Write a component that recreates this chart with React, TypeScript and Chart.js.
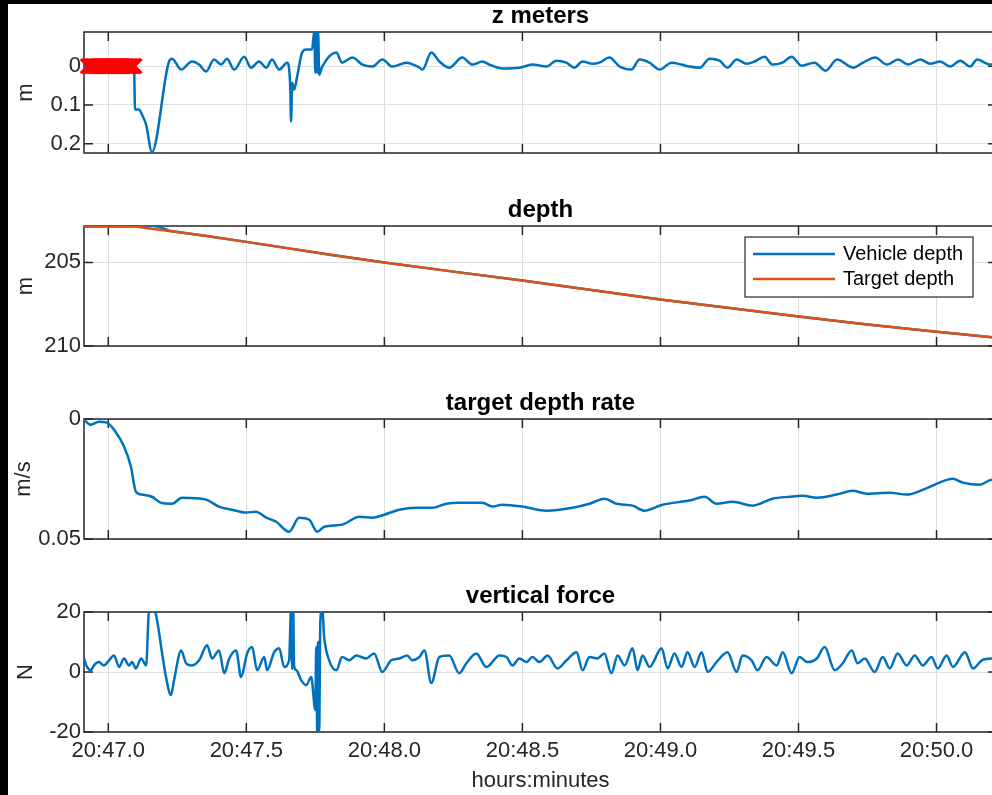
import React, { useEffect, useRef } from 'react';
import Chart from 'chart.js/auto';

// ---------- shared x axis (minutes after 20:00) ----------
const xMin = 46.912;
const xMax = 50.219;
const xTickValues = [47.0, 47.5, 48.0, 48.5, 49.0, 49.5, 50.0];
const xTickLabels = ['20:47.0', '20:47.5', '20:48.0', '20:48.5', '20:49.0', '20:49.5', '20:50.0'];

// ---------- z meters ----------
const zTime = [46.912, 47.093, 47.097, 47.111, 47.122, 47.137, 47.158, 47.220, 47.231, 47.264, 47.303, 47.329, 47.354, 47.383, 47.409, 47.430, 47.456, 47.492, 47.517, 47.546, 47.572, 47.593, 47.619, 47.648, 47.659, 47.662, 47.666, 47.673, 47.684, 47.702, 47.717, 47.738, 47.746, 47.750, 47.753, 47.757, 47.760, 47.764, 47.775, 47.826, 47.847, 47.884, 47.920, 47.956, 47.993, 48.029, 48.080, 48.127, 48.138, 48.170, 48.199, 48.235, 48.282, 48.319, 48.355, 48.380, 48.427, 48.489, 48.536, 48.587, 48.623, 48.659, 48.688, 48.717, 48.754, 48.779, 48.815, 48.852, 48.895, 48.924, 48.960, 48.997, 49.040, 49.076, 49.105, 49.142, 49.178, 49.214, 49.243, 49.276, 49.312, 49.341, 49.377, 49.406, 49.442, 49.475, 49.511, 49.558, 49.598, 49.640, 49.698, 49.734, 49.778, 49.821, 49.861, 49.897, 49.941, 49.977, 50.013, 50.049, 50.086, 50.122, 50.147, 50.194, 50.219];
const zValue = [0, 0, 0.112, 0.112, 0.125, 0.151, 0.222, -0.012, -0.019, 0.009, -0.012, -0.004, 0.014, -0.017, -0.004, -0.019, 0.009, -0.024, 0.004, -0.012, 0.004, -0.017, 0.009, -0.009, 0.053, 0.143, 0.043, 0.061, 0.027, -0.035, -0.043, -0.043, -0.09, 0.017, -0.09, 0.017, -0.09, 0.022, 0.001, -0.035, -0.009, -0.022, -0.004, 0.001, -0.017, 0.001, -0.009, 0.004, 0.009, -0.035, -0.012, 0.004, -0.022, -0.004, -0.012, -0.004, 0.006, 0.004, -0.004, 0.001, -0.014, -0.009, 0.004, -0.012, -0.006, -0.009, -0.022, 0.001, 0.009, -0.017, -0.009, 0.009, -0.009, -0.004, 0.001, 0.004, -0.019, -0.014, 0.004, -0.017, -0.006, -0.012, -0.024, -0.004, -0.009, -0.024, -0.001, -0.009, 0.012, -0.017, 0.004, -0.009, -0.022, -0.004, -0.017, -0.004, -0.017, -0.006, -0.012, 0.001, -0.014, 0.001, -0.017, -0.004, -0.006];
const zFlagTime = [46.926, 46.931, 46.936, 46.941, 46.946, 46.951, 46.956, 46.961, 46.966, 46.971, 46.976, 46.981, 46.986, 46.991, 46.996, 47.001, 47.006, 47.011, 47.016, 47.021, 47.026, 47.031, 47.036, 47.041, 47.046, 47.051, 47.056, 47.061, 47.066, 47.071, 47.076, 47.081, 47.086, 47.091, 47.095];
const zFlagValue = [0, 0, 0, 0, 0, 0, 0, 0, 0, 0, 0, 0, 0, 0, 0, 0, 0, 0, 0, 0, 0, 0, 0, 0, 0, 0, 0, 0, 0, 0, 0, 0, 0, 0, 0];
const zTicks = [0, 0.1, 0.2];
const zTickLabels = ['0', '0.1', '0.2'];

// ---------- depth ----------
const depthTargetTime = [46.912, 47.09, 47.2, 47.35, 47.5, 47.81, 48.0, 48.25, 48.5, 48.75, 49.0, 49.25, 49.5, 49.75, 50.0, 50.219];
const depthTarget = [202.85, 202.83, 203.08, 203.4, 203.77, 204.56, 205.0, 205.55, 206.08, 206.65, 207.22, 207.73, 208.24, 208.72, 209.15, 209.5];
const depthVehicleTime = [46.912, 47.09, 47.11, 47.15, 47.19, 47.22, 47.35, 47.5, 47.81, 48.0, 48.25, 48.5, 48.75, 49.0, 49.25, 49.5, 49.75, 50.0, 50.219];
const depthVehicle = [202.85, 202.83, 202.76, 202.76, 202.9, 203.1, 203.4, 203.77, 204.56, 205.0, 205.55, 206.08, 206.65, 207.22, 207.73, 208.24, 208.72, 209.15, 209.5];
const depthTicks = [205, 210];
const depthTickLabels = ['205', '210'];

// ---------- target depth rate ----------
const rateTime = [46.912, 46.937, 46.966, 46.995, 47.021, 47.057, 47.082, 47.100, 47.122, 47.158, 47.191, 47.231, 47.267, 47.354, 47.401, 47.448, 47.499, 47.535, 47.572, 47.608, 47.655, 47.691, 47.728, 47.757, 47.782, 47.847, 47.909, 47.956, 47.999, 48.054, 48.115, 48.173, 48.224, 48.271, 48.355, 48.391, 48.427, 48.500, 48.587, 48.681, 48.743, 48.797, 48.841, 48.899, 48.942, 49.008, 49.105, 49.160, 49.203, 49.261, 49.334, 49.406, 49.468, 49.515, 49.566, 49.638, 49.696, 49.747, 49.831, 49.892, 49.950, 50.000, 50.059, 50.095, 50.157, 50.200, 50.219];
const rateValue = [0.0003, 0.0024, 0.0011, 0.0015, 0.0045, 0.0115, 0.0199, 0.0303, 0.0315, 0.0324, 0.0349, 0.0353, 0.0328, 0.0336, 0.0365, 0.0378, 0.0390, 0.0386, 0.0411, 0.0428, 0.0470, 0.0411, 0.0420, 0.0470, 0.0449, 0.0440, 0.0407, 0.0411, 0.0399, 0.0378, 0.0370, 0.0370, 0.0353, 0.0349, 0.0349, 0.0365, 0.0357, 0.0365, 0.0382, 0.0370, 0.0353, 0.0332, 0.0353, 0.0361, 0.0382, 0.0357, 0.0340, 0.0324, 0.0353, 0.0345, 0.0361, 0.0332, 0.0324, 0.0320, 0.0328, 0.0315, 0.0299, 0.0311, 0.0307, 0.0315, 0.0295, 0.0270, 0.0249, 0.0265, 0.0274, 0.0253, 0.0253];
const rateTicks = [0, 0.05];
const rateTickLabels = ['0', '0.05'];

// ---------- vertical force ----------
const forceTime = [46.912, 46.923, 46.937, 46.948, 46.966, 46.984, 47.003, 47.021, 47.039, 47.057, 47.075, 47.086, 47.100, 47.119, 47.137, 47.148, 47.166, 47.177, 47.195, 47.209, 47.227, 47.238, 47.264, 47.282, 47.303, 47.329, 47.358, 47.376, 47.401, 47.420, 47.438, 47.463, 47.481, 47.503, 47.521, 47.539, 47.565, 47.575, 47.601, 47.619, 47.637, 47.655, 47.662, 47.666, 47.670, 47.673, 47.681, 47.699, 47.717, 47.735, 47.750, 47.753, 47.757, 47.760, 47.764, 47.768, 47.775, 47.782, 47.800, 47.826, 47.847, 47.873, 47.898, 47.934, 47.963, 47.992, 48.025, 48.054, 48.083, 48.101, 48.127, 48.145, 48.170, 48.199, 48.235, 48.271, 48.297, 48.333, 48.369, 48.380, 48.417, 48.442, 48.464, 48.489, 48.515, 48.536, 48.562, 48.591, 48.627, 48.660, 48.696, 48.718, 48.743, 48.772, 48.797, 48.822, 48.845, 48.870, 48.899, 48.917, 48.935, 48.961, 49.004, 49.026, 49.051, 49.076, 49.098, 49.124, 49.149, 49.171, 49.203, 49.243, 49.276, 49.297, 49.330, 49.352, 49.384, 49.421, 49.443, 49.475, 49.504, 49.533, 49.566, 49.595, 49.631, 49.660, 49.693, 49.714, 49.740, 49.776, 49.805, 49.831, 49.859, 49.892, 49.921, 49.950, 49.982, 50.004, 50.037, 50.059, 50.103, 50.132, 50.164, 50.200, 50.219];
const forceValue = [4.5, 1.7, 0.6, 2.2, 3.3, 2.2, 3.9, 5.5, 1.7, 4.5, 2.2, 3.3, 1.2, 4.5, 2.2, 21, 21, 17.1, 6.2, -1.7, -7.7, -2.8, 7.2, 2.9, 2.2, 3.9, 8.9, 4.5, 7.2, -0.4, 4.5, 7.2, -1.7, 6.2, 8.3, 0.6, 5.0, 0.6, 6.6, 7.9, 1.7, 3.9, 21, 1, 21, 2, 0.6, -2.8, -4.4, -1.7, -12.7, 8.3, -21, 10, -19.4, 17.1, 21, 11.6, 3.9, 0.6, 5.0, 3.9, 5.5, 4.5, 6.2, 0, 3.9, 4.5, 5.5, 3.9, 5.0, 7.2, -3.7, 5.0, 5.5, -0.4, 2.9, 6.2, 1.7, 2.2, 5.5, 5.0, 2.2, 4.5, 3.3, 5.0, 3.3, 5.5, 1.2, 3.9, 6.6, 0.6, 5.0, 4.5, 6.2, -0.4, 5.5, 2.2, 7.9, 0.6, 5.5, 1.7, 7.9, 1.2, 6.2, 1.7, 6.6, 1.7, 6.6, 0, 3.3, 6.6, 0, 5.5, 3.9, 0.6, 5.0, 2.2, 6.6, -0.4, 5.0, 3.3, 4.5, 8.3, 0.6, 2.9, 7.2, 2.9, 4.5, 0, 5.0, 1.2, 6.2, 2.2, 5.5, 2.2, 5.0, 1.2, 5.5, 1.7, 6.6, 1.2, 3.9, 4.5, 3.5];
const forceTicks = [-20, 0, 20];
const forceTickLabels = ['-20', '0', '20'];

// ---------- styling ----------
const FONT = '"Liberation Sans", Arial, Helvetica, sans-serif';
const BLUE = '#0072BD';
const ORANGE = '#D95319';
const AXIS = '#262626';
const GRID = '#dedede';
const CANVAS_W = 1080;

const pts = (xs: number[], ys: number[]) => {
  const n = Math.min(xs.length, ys.length);
  const out: { x: number; y: number }[] = [];
  for (let i = 0; i < n; i++) out.push({ x: xs[i], y: ys[i] });
  return out;
};

const axesFramePlugin = {
  id: 'axesFrame',
  beforeDatasetsDraw(chart: any) {
    const { ctx, chartArea: a, scales } = chart;
    const len = 9;
    ctx.save();
    ctx.strokeStyle = AXIS;
    ctx.lineWidth = 1.5;
    ctx.strokeRect(a.left, a.top, a.right - a.left, a.bottom - a.top);
    ctx.beginPath();
    scales.x.ticks.forEach((t: any) => {
      const px = scales.x.getPixelForValue(t.value);
      ctx.moveTo(px, a.top);
      ctx.lineTo(px, a.top + len);
      ctx.moveTo(px, a.bottom);
      ctx.lineTo(px, a.bottom - len);
    });
    scales.y.ticks.forEach((t: any) => {
      const py = scales.y.getPixelForValue(t.value);
      ctx.moveTo(a.left, py);
      ctx.lineTo(a.left + len, py);
      ctx.moveTo(a.right, py);
      ctx.lineTo(a.right - len, py);
    });
    ctx.stroke();
    ctx.restore();
  },
};

const boxedLegendPlugin = {
  id: 'boxedLegend',
  afterDatasetsDraw(chart: any, _args: any, opts: any) {
    const { ctx, chartArea: a } = chart;
    const w = 228;
    const h = 60;
    const left = a.right - opts.right - w;
    const top = a.top + opts.top;
    ctx.save();
    ctx.fillStyle = '#fff';
    ctx.fillRect(left, top, w, h);
    ctx.strokeStyle = AXIS;
    ctx.lineWidth = 1.2;
    ctx.strokeRect(left, top, w, h);
    ctx.font = `20px ${FONT}`;
    ctx.textBaseline = 'middle';
    chart.data.datasets.forEach((ds: any, i: number) => {
      const y = top + 17 + i * 25;
      ctx.strokeStyle = ds.borderColor;
      ctx.lineWidth = 2.5;
      ctx.beginPath();
      ctx.moveTo(left + 8, y);
      ctx.lineTo(left + 90, y);
      ctx.stroke();
      ctx.fillStyle = '#000';
      ctx.fillText(ds.label, left + 98, y);
    });
    ctx.restore();
  },
};

type PanelOpts = {
  title: string;
  yLabel: string;
  yMin: number;
  yMax: number;
  reverse: boolean;
  yTicks: number[];
  yTickLabels: string[];
  padBottom: number;
  xAxisHeight: number;
  showX: boolean;
  yTitlePad: number;
};

function makeOptions(o: PanelOpts, extraPlugins: any = {}) {
  return {
    responsive: false,
    maintainAspectRatio: false,
    animation: false,
    devicePixelRatio: 1,
    events: [],
    layout: { autoPadding: false, padding: { left: 0, right: CANVAS_W - (997 - 8), top: 0, bottom: o.padBottom } },
    plugins: {
      legend: { display: false },
      tooltip: { enabled: false },
      title: {
        display: true,
        text: o.title,
        fullSize: false,
        color: '#000',
        font: { family: FONT, size: 24, weight: 'bold', lineHeight: 1 },
        padding: { top: 0, bottom: 4 },
      },
      ...extraPlugins,
    },
    scales: {
      x: {
        type: 'linear',
        min: xMin,
        max: xMax,
        afterBuildTicks: (s: any) => {
          s.ticks = xTickValues.map((v) => ({ value: v }));
        },
        afterFit: (s: any) => {
          s.height = o.xAxisHeight;
        },
        grid: { color: GRID, lineWidth: 1, drawTicks: false },
        border: { display: false },
        ticks: {
          display: o.showX,
          autoSkip: false,
          maxRotation: 0,
          minRotation: 0,
          padding: 6,
          color: AXIS,
          font: { family: FONT, size: 22 },
          callback: (_v: any, i: number) => xTickLabels[i],
        },
        title: {
          display: o.showX,
          text: 'hours:minutes',
          color: AXIS,
          font: { family: FONT, size: 22 },
          padding: { top: 0, bottom: 1 },
        },
      },
      y: {
        type: 'linear',
        min: o.yMin,
        max: o.yMax,
        reverse: o.reverse,
        afterBuildTicks: (s: any) => {
          s.ticks = o.yTicks.map((v) => ({ value: v }));
        },
        afterFit: (s: any) => {
          s.width = 84 - 8;
        },
        grid: { color: GRID, lineWidth: 1, drawTicks: false },
        border: { display: false },
        ticks: {
          padding: 3,
          color: AXIS,
          font: { family: FONT, size: 22 },
          callback: (_v: any, i: number) => o.yTickLabels[i],
        },
        title: {
          display: true,
          text: o.yLabel,
          color: AXIS,
          font: { family: FONT, size: 22 },
          padding: { top: o.yTitlePad, bottom: 0 },
        },
      },
    },
  };
}

const lineStyle = (color: string, smooth = false) => ({
  borderColor: color,
  backgroundColor: color,
  borderWidth: 2.5,
  pointRadius: 0,
  tension: 0,
  cubicInterpolationMode: smooth ? 'monotone' : 'default',
  fill: false,
});

const panels = [
  {
    top: 4,
    height: 166,
    config: () => ({
      type: 'line',
      data: {
        datasets: [
          {
            label: 'flag',
            data: pts(zFlagTime, zFlagValue),
            showLine: true,
            borderWidth: 9,
            pointStyle: 'crossRot',
            pointRadius: 10,
            pointBorderWidth: 3,
            pointBorderColor: '#ff0000',
            pointBackgroundColor: '#ff0000',
            borderColor: '#ff0000',
            backgroundColor: '#ff0000',
            clip: false,
            order: 0,
          },
          { label: 'z', data: pts(zTime, zValue), ...lineStyle(BLUE, true), order: 1 },
        ],
      },
      options: makeOptions({
        title: 'z meters', yLabel: 'm', yMin: -0.088, yMax: 0.224, reverse: true,
        yTicks: zTicks, yTickLabels: zTickLabels, padBottom: 17, xAxisHeight: 0, showX: false, yTitlePad: 5,
      }),
      plugins: [axesFramePlugin],
    }),
  },
  {
    top: 198,
    height: 168,
    config: () => ({
      type: 'line',
      data: {
        datasets: [
          { label: 'Vehicle depth', data: pts(depthVehicleTime, depthVehicle), ...lineStyle(BLUE), order: 1 },
          { label: 'Target depth', data: pts(depthTargetTime, depthTarget), ...lineStyle(ORANGE), order: 0 },
        ],
      },
      options: makeOptions(
        {
          title: 'depth', yLabel: 'm', yMin: 202.82, yMax: 210, reverse: true,
          yTicks: depthTicks, yTickLabels: depthTickLabels, padBottom: 20, xAxisHeight: 0, showX: false, yTitlePad: 5,
        },
        { boxedLegend: { right: 24, top: 11 } }
      ),
      plugins: [axesFramePlugin, boxedLegendPlugin],
    }),
  },
  {
    top: 391,
    height: 169,
    config: () => ({
      type: 'line',
      data: { datasets: [{ label: 'rate', data: pts(rateTime, rateValue), ...lineStyle(BLUE, true) }] },
      options: makeOptions({
        title: 'target depth rate', yLabel: 'm/s', yMin: 0, yMax: 0.05, reverse: true,
        yTicks: rateTicks, yTickLabels: rateTickLabels, padBottom: 21, xAxisHeight: 0, showX: false, yTitlePad: 2.5,
      }),
      plugins: [axesFramePlugin],
    }),
  },
  {
    top: 584,
    height: 211,
    config: () => ({
      type: 'line',
      data: { datasets: [{ label: 'force', data: pts(forceTime, forceValue), ...lineStyle(BLUE, true) }] },
      options: makeOptions({
        title: 'vertical force', yLabel: 'N', yMin: -20, yMax: 20, reverse: false,
        yTicks: forceTicks, yTickLabels: forceTickLabels, padBottom: 0, xAxisHeight: 63, showX: true, yTitlePad: 5,
      }),
      plugins: [axesFramePlugin],
    }),
  },
];

export default function App() {
  const canvases = useRef<(HTMLCanvasElement | null)[]>([]);

  useEffect(() => {
    Chart.defaults.font.family = FONT;
    const charts = panels.map((p, i) => new Chart(canvases.current[i] as HTMLCanvasElement, p.config() as any));
    return () => charts.forEach((c) => c.destroy());
  }, []);

  return (
    <div
      style={{
        position: 'fixed', left: 0, top: 0, width: 992, height: 795,
        background: '#000', overflow: 'hidden',
      }}
    >
      <div style={{ position: 'absolute', left: 8, top: 4, width: 1200, height: 800, background: '#fff' }} />
      {panels.map((p, i) => (
        <canvas
          key={i}
          ref={(el) => {
            canvases.current[i] = el;
          }}
          width={CANVAS_W}
          height={p.height}
          style={{ position: 'absolute', left: 8, top: p.top, width: CANVAS_W, height: p.height }}
        />
      ))}
    </div>
  );
}
